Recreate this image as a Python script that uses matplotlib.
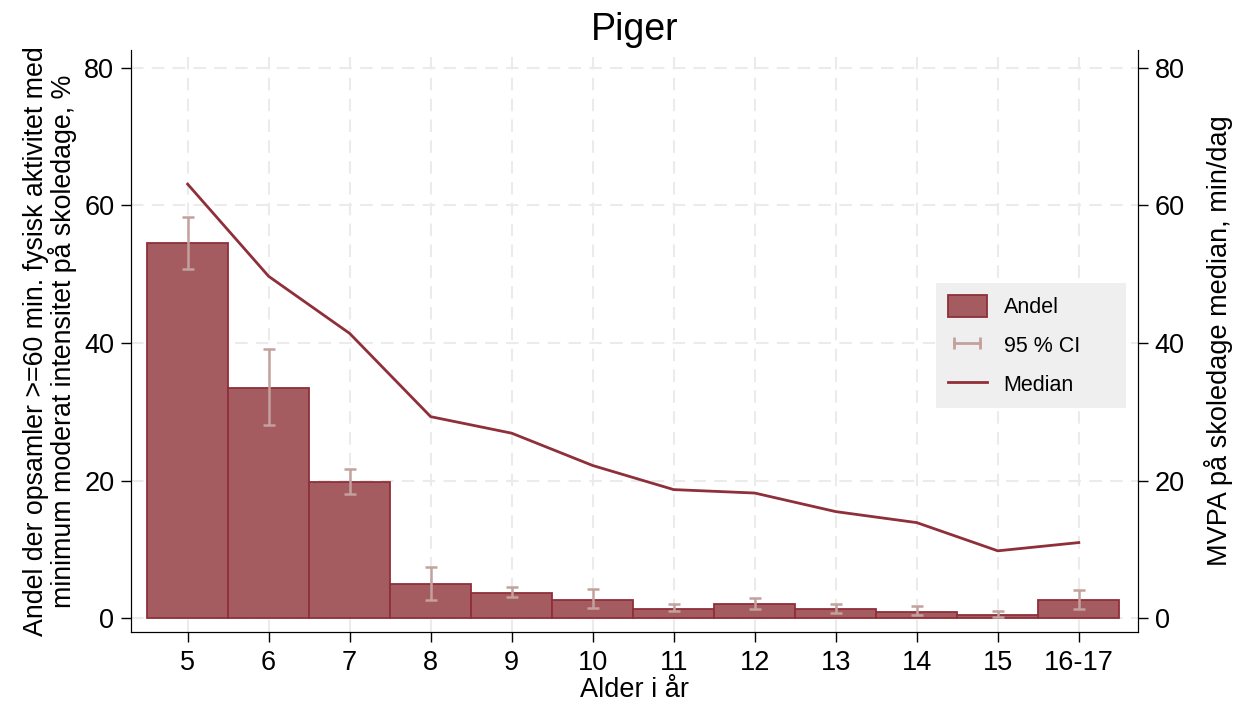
import matplotlib
matplotlib.use("Agg")
import matplotlib.pyplot as plt
import numpy as np
from matplotlib.patches import Patch
from matplotlib.lines import Line2D
from matplotlib.legend_handler import HandlerLine2D

plt.rcParams['font.family'] = ['Liberation Sans', 'DejaVu Sans']

ages = ["5", "6", "7", "8", "9", "10", "11", "12", "13", "14", "15", "16-17"]
andel = [54.5, 33.5, 19.8, 5.0, 3.7, 2.7, 1.4, 2.0, 1.4, 0.9, 0.5, 2.6]
ci_low = [50.8, 28.1, 18.1, 2.7, 3.1, 1.5, 1.0, 1.3, 0.8, 0.4, 0.15, 1.3]
ci_high = [58.3, 39.1, 21.7, 7.5, 4.5, 4.2, 2.0, 2.95, 2.1, 1.75, 1.1, 4.1]
median = [63.1, 49.7, 41.4, 29.3, 26.9, 22.2, 18.7, 18.2, 15.5, 13.9, 9.8, 11.0]

bar_face = '#a45c60'
bar_edge = '#8e2f3a'
line_col = '#8e2f3a'
ci_col = '#c3a19d'
grid_col = '#ebebeb'

x = np.arange(len(ages))
andel = np.array(andel)
yerr = np.array([andel - np.array(ci_low), np.array(ci_high) - andel])

fig = plt.figure(figsize=(12.33, 7.06), dpi=100)
ax = fig.add_axes([0.1062, 0.1048, 0.8167, 0.8244])

ax.set_axisbelow(True)
ax.grid(True, color=grid_col, linestyle=(0, (6, 4)), linewidth=1.5)

ax.bar(x, andel, width=1.0, color=bar_face, edgecolor=bar_edge, linewidth=1.3, zorder=2)
ax.errorbar(x, andel, yerr=yerr, fmt='none', ecolor=ci_col, elinewidth=1.8,
            capsize=4, capthick=1.8, zorder=3)

ax.set_xlim(-0.7, 11.73)
ax.set_ylim(-2, 82.6)
ax.set_yticks([0, 20, 40, 60, 80])
ax.set_xticks(x)
ax.set_xticklabels(ages)
ax.tick_params(labelsize=19.5, length=7, width=1, pad=5)
ax.tick_params(axis='x', pad=6)
ax.spines['top'].set_visible(False)
ax.set_xlabel("Alder i år", fontsize=19.5, labelpad=1)
ax.set_ylabel("Andel der opsamler >=60 min. fysisk aktivitet med\nminimum moderat intensitet på skoledage, %",
              fontsize=19.3, labelpad=5, linespacing=0.95)

ax2 = ax.twinx()
ax2.plot(x, median, color=line_col, linewidth=2, zorder=4)
ax2.set_ylim(-2, 82.6)
ax2.set_yticks([0, 20, 40, 60, 80])
ax2.tick_params(labelsize=19.5, length=7, width=1, pad=5)
ax2.spines['top'].set_visible(False)
ax2.set_ylabel("MVPA på skoledage median, min/dag", fontsize=19.5, labelpad=14)

ax.set_title("Piger", fontsize=27, pad=7)

h_bar = Patch(facecolor=bar_face, edgecolor=bar_edge, linewidth=1.3)
h_ci = Line2D([0], [0], color=ci_col, linewidth=2, marker='|', markersize=8,
              markeredgewidth=2)
h_med = Line2D([0], [0], color=line_col, linewidth=2)
leg = ax2.legend([h_bar, h_ci, h_med], ["Andel", "95 % CI", "Median"],
                 handler_map={h_ci: HandlerLine2D(numpoints=2)},
                 loc='upper left', bbox_to_anchor=(0.7994, 0.3918, 0.1887, 0.2079),
                 mode='expand', borderaxespad=0, fontsize=15.5, frameon=True,
                 fancybox=False, facecolor='#efefef', edgecolor='none', framealpha=1,
                 handlelength=1.8, handleheight=1.2, labelspacing=0.72,
                 borderpad=0.55, handletextpad=0.8)

fig.savefig("out.png", dpi=100)
